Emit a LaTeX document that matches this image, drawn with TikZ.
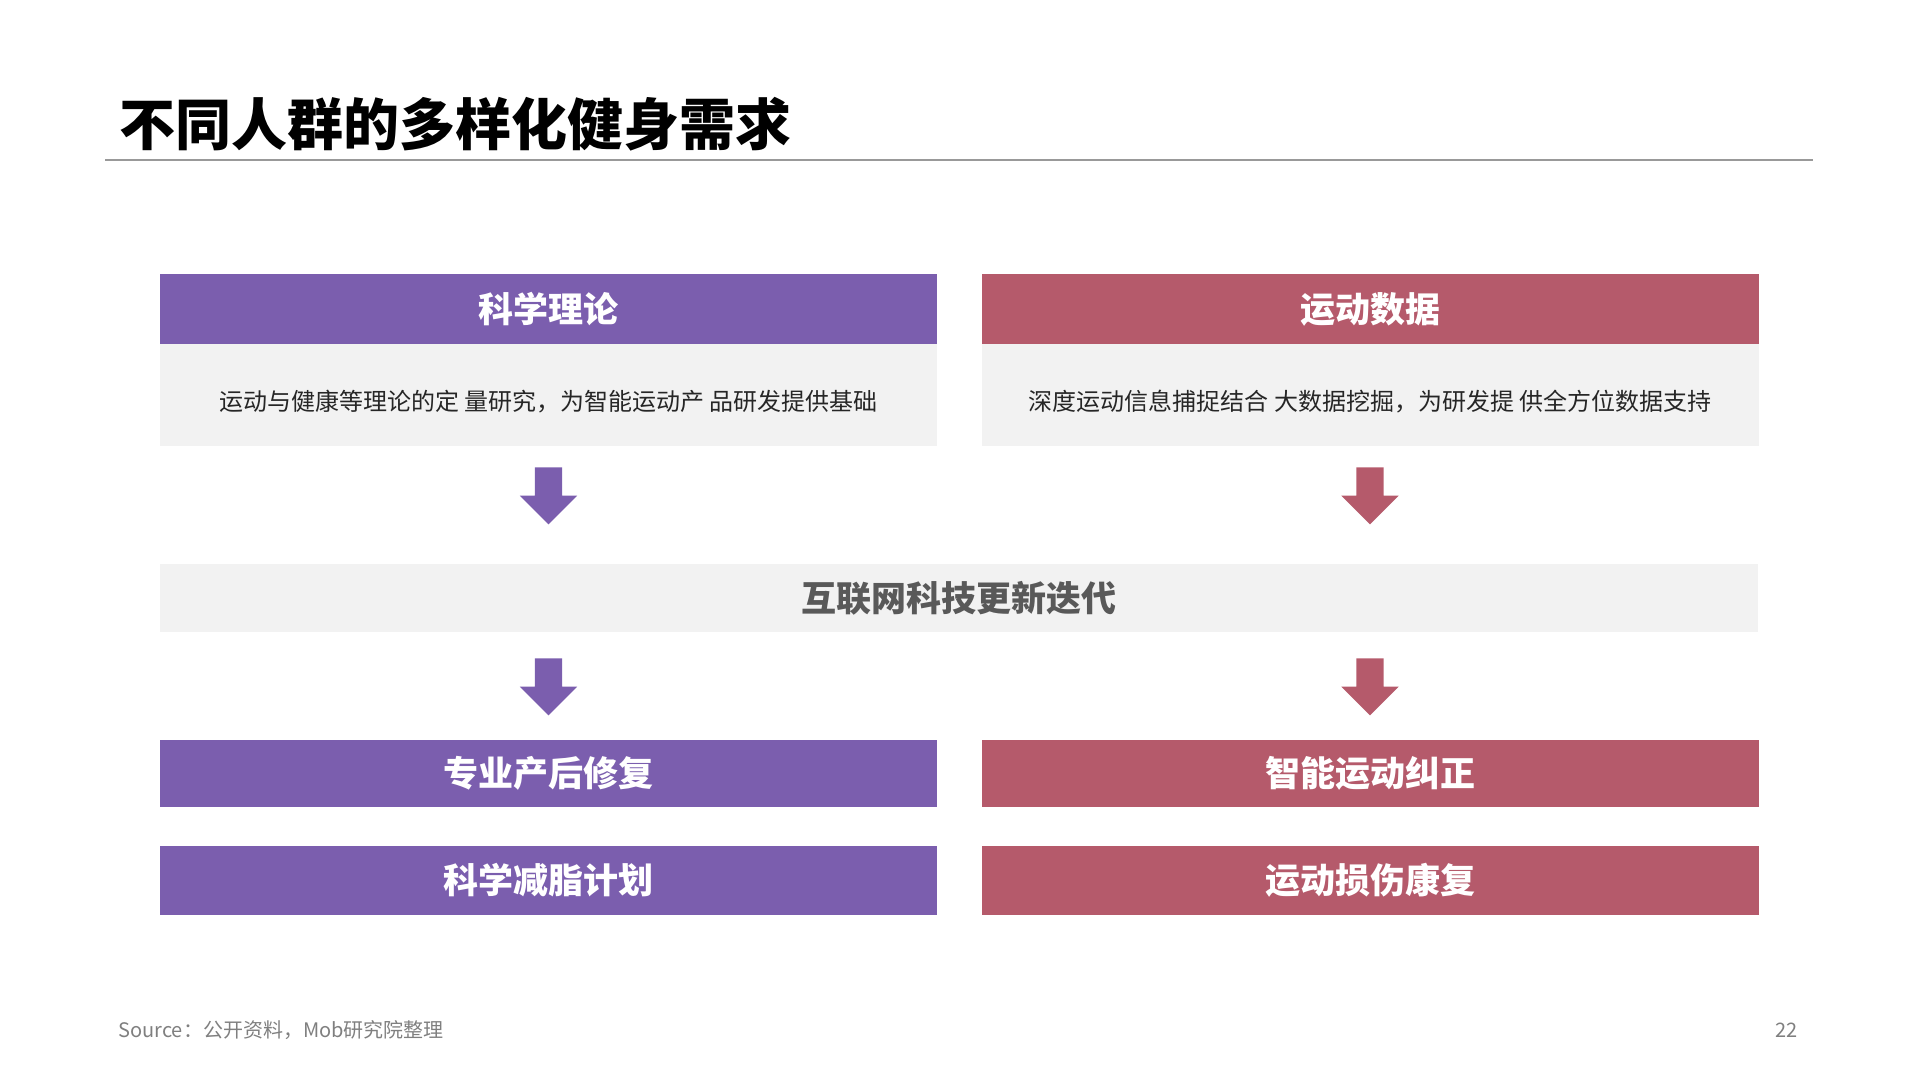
\documentclass[tikz,border=0pt]{standalone}
\usepackage{fontspec}
\setmainfont{Noto Sans CJK SC}
\usetikzlibrary{shapes.arrows}

\definecolor{morado}{HTML}{7B5EAE}
\definecolor{rojo}{HTML}{B55A6B}
\definecolor{fondo}{HTML}{F2F2F2}
\definecolor{textogris}{HTML}{595959}
\definecolor{pie}{HTML}{7F7F7F}

\tikzset{
  cabecera/.style={rectangle, fill=#1, text=white, inner sep=0, minimum width=777, minimum height=70,
    font=\fontsize{35}{35}\selectfont\bfseries},
  cuerpo/.style={rectangle, fill=fondo, text=black!85, inner sep=0, minimum width=777, minimum height=102,
    font=\fontsize{24}{24}\selectfont},
  flecha/.style={single arrow, rotate=-90, fill=#1, draw=none, inner xsep=0, inner ysep=13.5,
    text height=0, text depth=0, text width=0, minimum height=57, minimum width=57,
    single arrow head extend=15, single arrow tip angle=90}
}

\begin{document}
\begin{tikzpicture}[x=1pt,y=-1pt]
    \useasboundingbox (0,0) rectangle (1920,1080);

    % Título
    \node[anchor=west, font=\fontsize{56}{56}\selectfont\bfseries] (titulo) at (116,124) {不同人群的多样化健身需求};
    \draw[gray!80, line width=1.3] (105,160) -- (1813,160);

    % Columnas superiores
    \node[cabecera=morado] (teoria) at (548.5,309) {科学理论};
    \node[cuerpo] (teoriatxt) at (548.5,395) {\raisebox{-7pt}[\height][\depth]{运动与健康等理论的定 量研究，为智能运动产 品研发提供基础}};
    \node[cabecera=rojo] (datos) at (1370,309) {运动数据};
    \node[cuerpo] (datostxt) at (1370,395) {\raisebox{-7pt}[\height][\depth]{深度运动信息捕捉结合 大数据挖掘，为研发提 供全方位数据支持}};

    % Flechas
    \node[flecha=morado] (f1) at (548.5,489) {};
    \node[flecha=rojo] (f2) at (1370,489) {};

    % Barra central
    \node[rectangle, fill=fondo, text=textogris, inner sep=0, minimum width=1598, minimum height=68,
      font=\fontsize{35}{35}\selectfont\bfseries] (internet) at (959,598) {互联网科技更新迭代};

    \node[flecha=morado] (f3) at (548.5,680) {};
    \node[flecha=rojo] (f4) at (1370,680) {};

    % Aplicaciones
    \node[cabecera=morado, minimum height=67] (posparto) at (548.5,773.5) {专业产后修复};
    \node[cabecera=morado, minimum height=69] (grasa) at (548.5,880.5) {科学减脂计划};
    \node[cabecera=rojo, minimum height=67] (correccion) at (1370,773.5) {智能运动纠正};
    \node[cabecera=rojo, minimum height=69] (lesion) at (1370,880.5) {运动损伤康复};

    % Pie
    \node[anchor=west, text=pie, font=\fontsize{20}{20}\selectfont] (fuente) at (115,1030) {Source：公开资料，Mob研究院整理};
    \node[anchor=east, text=pie, font=\fontsize{20}{20}\selectfont] (pagina) at (1801,1030) {22};
\end{tikzpicture}
\end{document}
